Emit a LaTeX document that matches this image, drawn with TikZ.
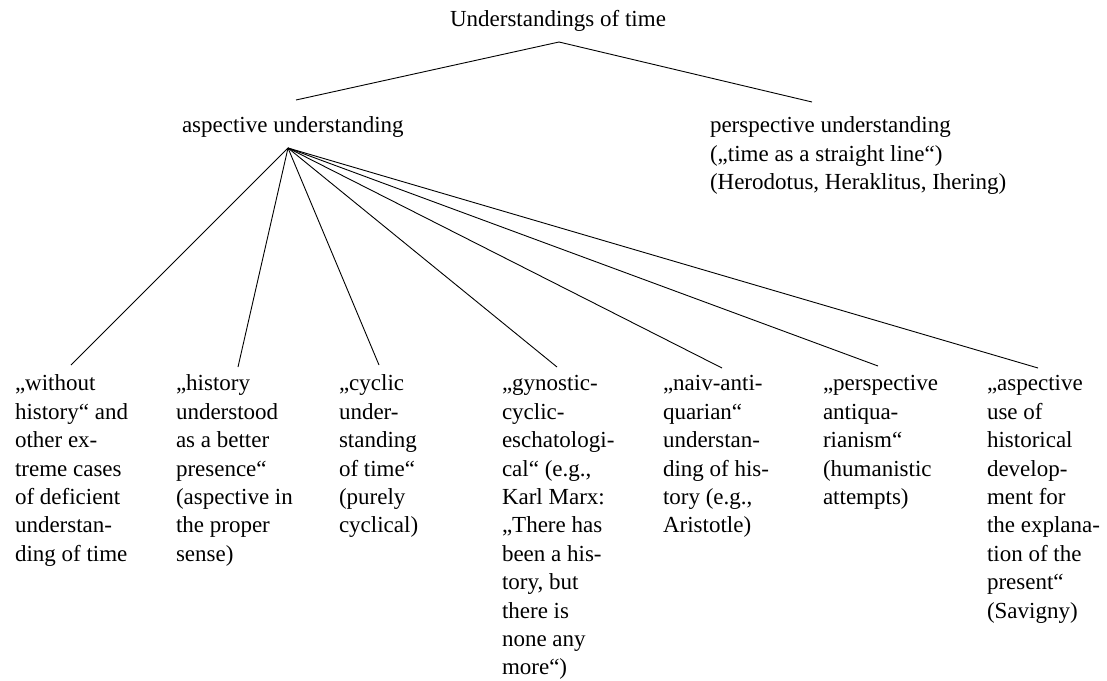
\documentclass[tikz,border=0pt]{standalone}
\usepackage{fontspec}
\setmainfont{Liberation Serif}
\begin{document}
\begin{tikzpicture}[x=1pt,y=-1pt,
  lbl/.style={inner sep=0pt, outer sep=0pt, align=left, anchor=north west,
              font=\fontsize{23}{28.4}\selectfont},
  branch/.style={line width=0.9pt, black}]
\useasboundingbox (0,0) rectangle (1107,680);

% headings
\node[lbl, anchor=base] (title) at (558,27) {Understandings of time};
\node[lbl, anchor=base west] (asp) at (182,132) {aspective understanding};
\node[lbl] (persp) at (710,113.1) {\strut perspective understanding\\(„time as a straight line“)\\(Herodotus, Heraklitus, Ihering)};

% the seven kinds of aspective understanding
\node[lbl] (c1) at (15,371.1) {\strut„without\\history“ and\\other ex-\\treme cases\\of deficient\\understan-\\ding of time};
\node[lbl] (c2) at (176,371.1) {\strut„history\\understood\\as a better\\presence“\\(aspective in\\the proper\\sense)};
\node[lbl] (c3) at (339,371.1) {\strut„cyclic\\under-\\standing\\of time“\\(purely\\cyclical)};
\node[lbl] (c4) at (502,371.1) {\strut„gynostic-\\cyclic-\\eschatologi-\\cal“ (e.g.,\\Karl Marx:\\„There has\\been a his-\\tory, but\\there is\\none any\\more“)};
\node[lbl] (c5) at (663,371.1) {\strut„naiv-anti-\\quarian“\\understan-\\ding of his-\\tory (e.g.,\\Aristotle)};
\node[lbl] (c6) at (823,371.1) {\strut„perspective\\antiqua-\\rianism“\\(humanistic\\attempts)};
\node[lbl] (c7) at (987,371.1) {\strut„aspective\\use of\\historical\\develop-\\ment for\\the explana-\\tion of the\\present“\\(Savigny)};

% branch points
\coordinate (apex) at (559,42);
\coordinate (aspIn) at (296,100);
\coordinate (perIn) at (812,102);
\coordinate (hub) at (288,148);
\coordinate (e1) at (71,365);
\coordinate (e2) at (238,367);
\coordinate (e3) at (379,365);
\coordinate (e4) at (557,367);
\coordinate (e5) at (722,368);
\coordinate (e6) at (878,366);
\coordinate (e7) at (1038,368);

\draw[branch] (apex) -- (aspIn);
\draw[branch] (apex) -- (perIn);
\foreach \i in {1,...,7} \draw[branch] (hub) -- (e\i);
\end{tikzpicture}
\end{document}
